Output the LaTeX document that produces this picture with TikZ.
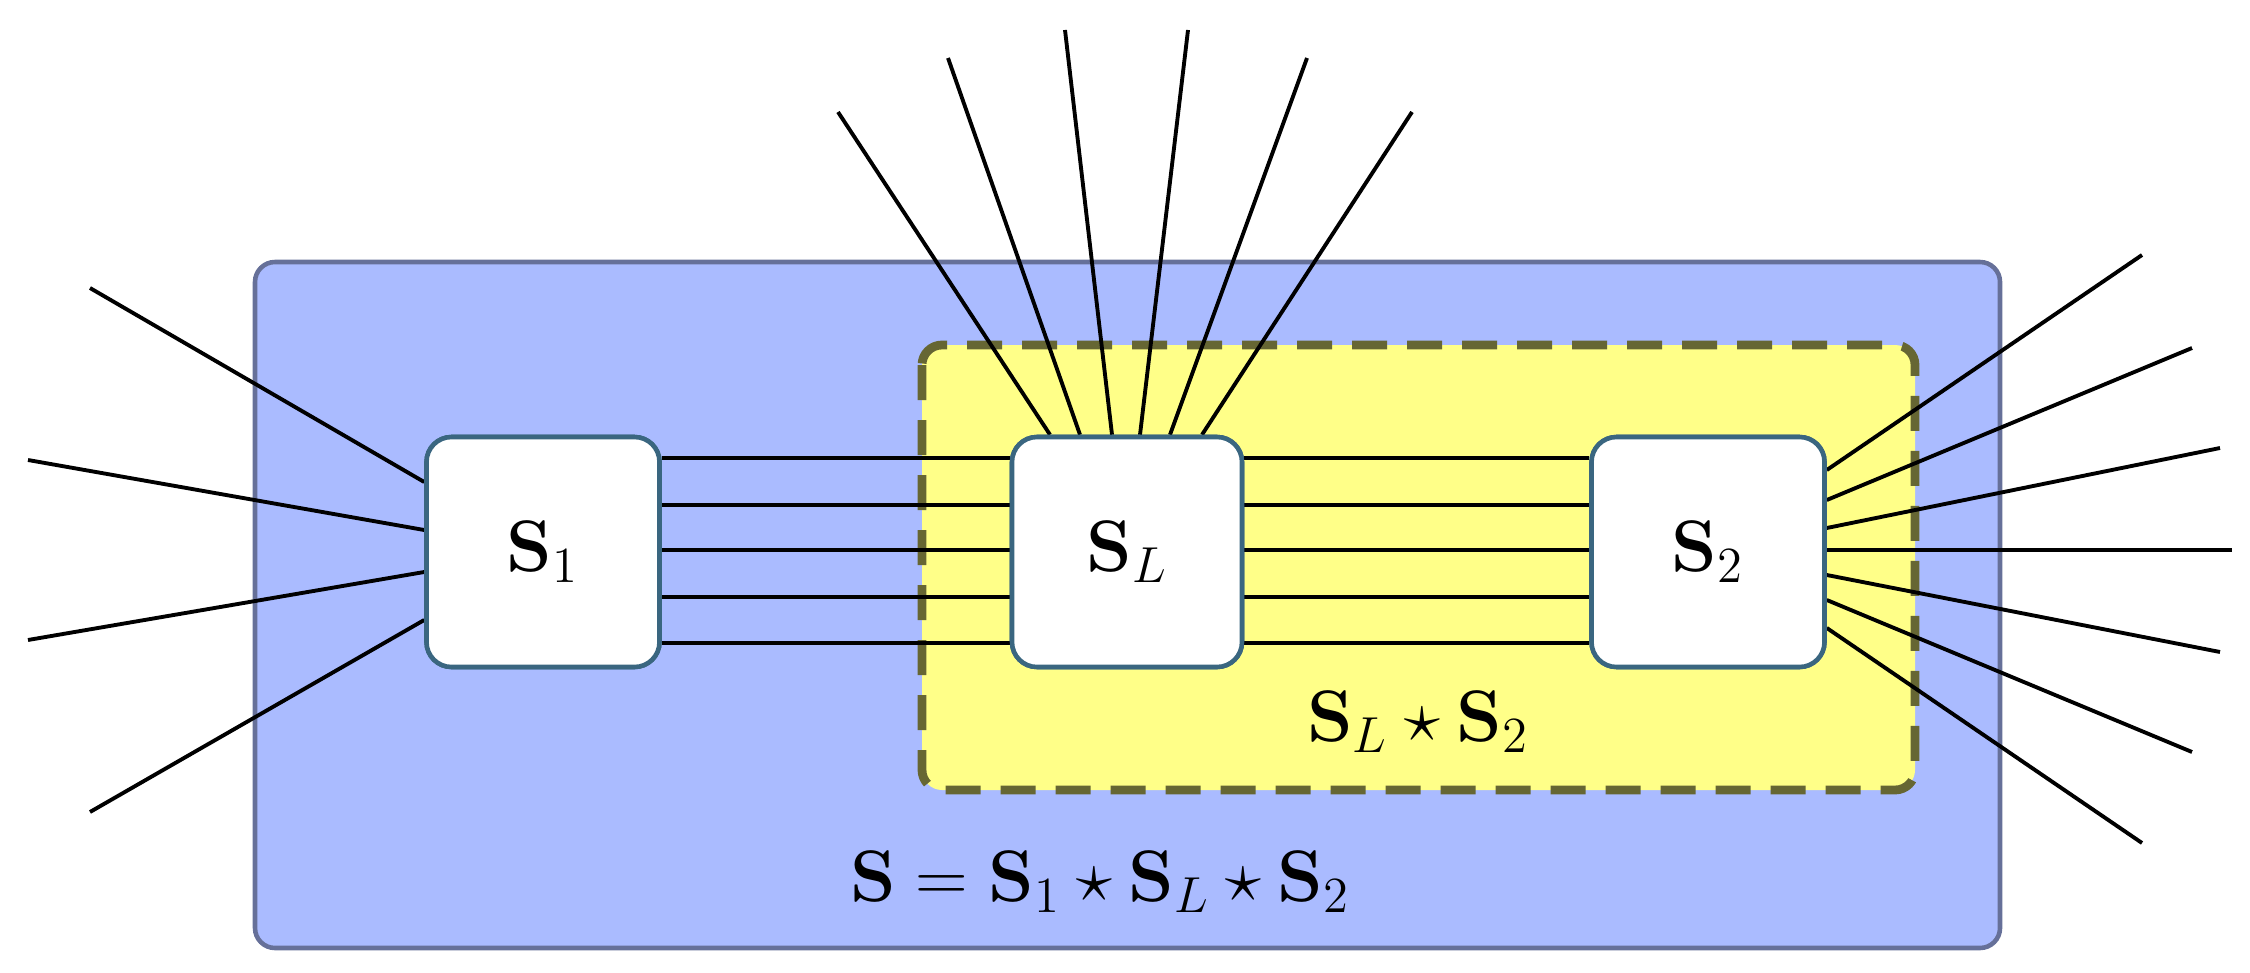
\documentclass[tikz,border=0pt]{standalone}
\usepackage{amsmath}
\begin{document}
\begin{tikzpicture}[x=0.1mm,y=-0.1mm,
  wire/.style={line width=1.1pt,black},
  box/.style={draw=boxc, line width=1.3pt, fill=white, rounded corners=2.5mm, inner sep=0pt},
  lab/.style={font=\fontsize{20}{24}\selectfont}]
\definecolor{blueb}{HTML}{AABBFF}
\definecolor{yel}{HTML}{FFFF88}
\definecolor{olive2}{HTML}{666633}
\definecolor{boxc}{HTML}{3A6680}
\useasboundingbox (0,0) rectangle (2250,972);
\draw[fill=blueb,draw=blueb!60!black,line width=1.3pt,rounded corners=2mm] (255,262) rectangle (2000,948);
\draw[fill=yel,draw=olive2,line width=2.5pt,dash pattern=on 3.5mm off 2mm,rounded corners=2mm] (922,345) rectangle (1915,790);
\node[box,minimum width=23.3mm,minimum height=23mm] (s1) at (543,552) {};
\node[box,minimum width=23mm,minimum height=23mm] (sl) at (1127,552) {};
\node[box,minimum width=23.3mm,minimum height=23mm] (s2) at (1708,552) {};
\foreach \y in {458,505,550,597,643}{
  \draw[wire] (s1.east |- 0,\y) -- (sl.west |- 0,\y);
  \draw[wire] (sl.east |- 0,\y) -- (s2.west |- 0,\y);
}
\foreach \y/\ex/\ey in {482/90/288, 530/28/460, 572/28/640, 620/90/812}{
  \coordinate (e) at (\ex,\ey);
  \draw[wire] (s1.west |- 0,\y) -- (e);
}
\foreach \x/\ex/\ey in {1050/838/112, 1080/948/58, 1112/1065/30, 1140/1188/30, 1170/1307/58, 1202/1412/112}{
  \coordinate (e) at (\ex,\ey);
  \draw[wire] (sl.north -| \x,0) -- (e);
}
\foreach \y/\ex/\ey in {470/2142/255, 500/2192/348, 528/2220/448, 550/2232/550, 575/2220/652, 600/2192/752, 628/2142/843}{
  \coordinate (e) at (\ex,\ey);
  \draw[wire] (s2.east |- 0,\y) -- (e);
}
\node[box,minimum width=23.3mm,minimum height=23mm] at (s1) {};
\node[box,minimum width=23mm,minimum height=23mm] at (sl) {};
\node[box,minimum width=23.3mm,minimum height=23mm] at (s2) {};
\node[lab] (t1) at (543,552) {$\mathbf{S}_1$};
\node[lab] (tl) at (1127,552) {$\mathbf{S}_L$};
\node[lab] (t2) at (1708,552) {$\mathbf{S}_2$};
\node[lab] (tls) at (1418,722) {$\mathbf{S}_L\star\mathbf{S}_2$};
\node[lab] (ts) at (1100,882) {$\mathbf{S}=\mathbf{S}_1\star\mathbf{S}_L\star\mathbf{S}_2$};
\end{tikzpicture}
\end{document}
